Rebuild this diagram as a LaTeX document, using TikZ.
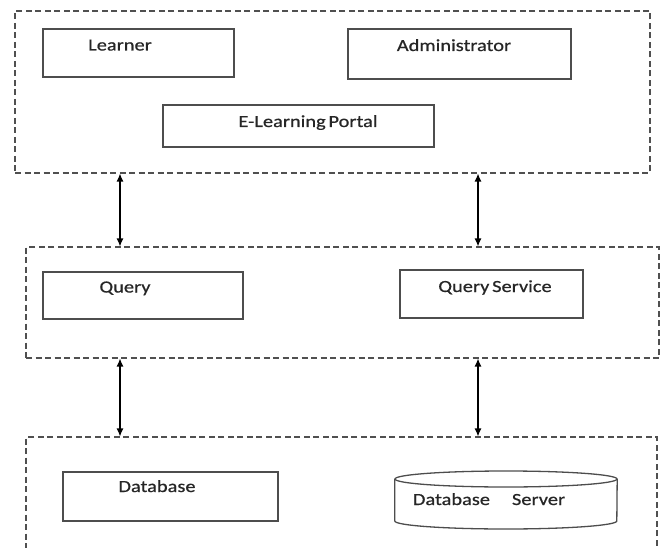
\documentclass[tikz,border=0pt]{standalone}
\usepackage{fontspec}
\setmainfont{Carlito}[FakeStretch=1.2, FakeBold=0.6, WordSpace=0.6]
\usetikzlibrary{fit,arrows.meta}
\definecolor{linegray}{HTML}{4D4D4D}
\definecolor{dashgray}{HTML}{505050}
\definecolor{txt}{HTML}{262626}
\tikzset{
  box/.style={draw=linegray, line width=1.3pt, inner sep=0pt, fill=white},
  group/.style={draw=dashgray, line width=1.1pt, dash pattern=on 6pt off 3.5pt, inner sep=0pt},
  lbl/.style={anchor=base, inner sep=0pt, text=txt, font=\fontsize{17}{20}\selectfont},
  link/.style={line width=1.2pt, {Latex[length=8pt,width=7pt]}-{Latex[length=8pt,width=7pt]}},
}
\begin{document}
\begin{tikzpicture}[x=1pt,y=-1pt]
\useasboundingbox (0,0) rectangle (661,548);
\clip (0,0) rectangle (661,548);
\fill[white] (0,0) rectangle (661,548);

% groups
\node[group, fit={(15,11) (650,173)}] (topgrp) {};
\node[group, fit={(26,247) (659,358)}] (midgrp) {};
\node[group, fit={(26,437) (657,570)}] (botgrp) {};

% top layer
\node[box, fit={(43,29) (234,77)}] (learnerbox) {};
\node[lbl] (learner) at (120,50.5) {Learner};
\node[box, fit={(348,29) (571,79)}] (adminbox) {};
\node[lbl] (admin) at (454,51) {Administrator};
\node[box, fit={(163,105) (434,147)}] (portalbox) {};
\node[lbl] (portal) at (308,127) {E-Learning Portal};

% middle layer
\node[box, fit={(43,272) (243,319)}] (querybox) {};
\node[lbl] (query) at (125,292.5) {Query};
\node[box, fit={(400,270) (583,318)}] (qsbox) {};
\node[lbl] (qs) at (495,292) {Query Service};

% bottom layer
\node[box, fit={(63,472) (278,521)}] (dbbox) {};
\node[lbl] (db) at (157,492) {Database};
\node[inner sep=0pt, fit={(395,471) (617,529)}] (dbsbox) {};
\draw[linegray, line width=1.3pt, fill=white]
  (dbsbox.west |- 0,479) -- (dbsbox.west |- 0,521)
  arc[start angle=180, end angle=360, x radius=111, y radius=-8]
  -- (dbsbox.east |- 0,479);
\draw[linegray, line width=1.3pt, fill=white] (506,479) ellipse[x radius=111, y radius=8];
\node[lbl] (dbs) at (489,505) {Database\hspace{22pt}Server};

% connectors
\coordinate (axl) at (120,0);
\coordinate (axr) at (478,0);
\draw[link] (topgrp.south -| axl) -- (midgrp.north -| axl);
\draw[link] (topgrp.south -| axr) -- (midgrp.north -| axr);
\draw[link] (midgrp.south -| axl) -- (botgrp.north -| axl);
\draw[link] (midgrp.south -| axr) -- (botgrp.north -| axr);
\end{tikzpicture}
\end{document}
